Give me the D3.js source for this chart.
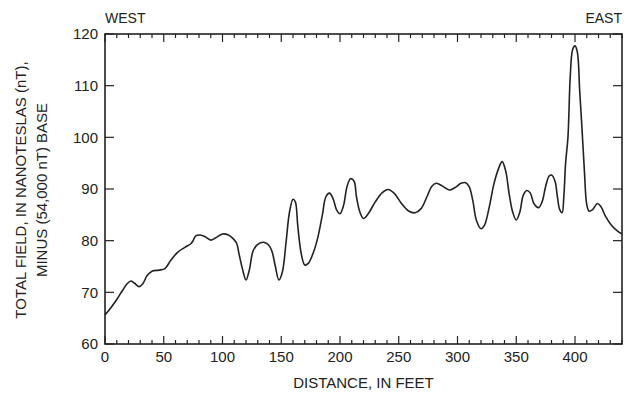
<!DOCTYPE html>
<html>
<head>
<meta charset="utf-8">
<script src="https://cdn.jsdelivr.net/npm/d3@7"></script>
<style>
  html, body { margin: 0; padding: 0; background: #fff; }
  svg { display: block; font-family: "Liberation Sans", Arial, sans-serif; }
</style>
</head>
<body>
<svg id="chart" width="634" height="402"></svg>
<script>
// Magnetic profile: distance along the line (feet) and total field (nT above 54,000 nT base)
const distance = [0,5,10,15,19,22,25,29,32,36,40,46,51,56,62,68,73,75,77,81,85,90,94,100,105,109,112,114,117,120,123,126,130,135,139,142,145,148,151,154,157,160,162,164,167,170,173,177,181,185,188,191,194,197,200,203,206,209,212,214,217,220,224,230,236,241,246,252,258,264,269,274,278,282,287,293,298,303,307,310,313,316,320,323,327,331,335,338,341,344,347,350,353,356,359,362,365,369,372,375,378,380,383,385,387,389,390.5,392,394,396,398,400,402,404,406,408,410,412,415,419,422,426,431,436,440];
const field = [65.6,67.0,68.6,70.4,71.7,72.2,71.8,71.1,71.6,73.3,74.1,74.3,74.6,76.2,77.8,78.7,79.4,80.0,80.9,81.1,80.8,80.1,80.5,81.3,81.1,80.4,79.5,77.5,74.5,72.4,74.5,78.0,79.3,79.7,79.2,78.0,75.0,72.4,74.0,79.5,85.5,88.0,87.5,83.0,77.5,75.3,75.6,77.5,80.5,85.0,88.5,89.2,88.2,86.0,85.2,86.8,90.5,92.0,91.5,88.5,85.5,84.3,85.2,87.5,89.3,89.9,89.2,87.3,85.8,85.4,86.2,88.5,90.5,91.1,90.6,89.8,90.3,91.1,91.2,90.4,87.8,84.0,82.3,83.0,86.5,91.0,94.0,95.3,93.5,89.0,85.5,84.0,85.5,88.8,89.7,89.2,87.2,86.4,87.5,90.5,92.5,92.7,91.5,88.5,86.0,85.4,88.5,95.0,100.0,112.0,117.0,117.7,116.5,109.0,101.5,93.5,87.0,85.7,86.0,87.2,86.6,84.7,83.0,81.9,81.3];

const xTickLabels = [0,50,100,150,200,250,300,350,400];
const yTickLabels = [60,70,80,90,100,110,120];
const xDomain = [0,440];
const yDomain = [60,120];

const svg = d3.select("#chart");
const m = { left: 105, right: 12, top: 34, bottom: 58 };
const W = 634, H = 402;
const x = d3.scaleLinear().domain(xDomain).range([m.left, W - m.right]);
const y = d3.scaleLinear().domain(yDomain).range([H - m.bottom, m.top]);

const ink = "#222";

// Frame
svg.append("rect")
  .attr("x", x(xDomain[0])).attr("y", y(yDomain[1]))
  .attr("width", x(xDomain[1]) - x(xDomain[0]))
  .attr("height", y(yDomain[0]) - y(yDomain[1]))
  .attr("fill", "none").attr("stroke", ink).attr("stroke-width", 1.6);

// Inward ticks on all four sides
const minorX = d3.range(0, 441, 10);
const ticks = svg.append("g").attr("stroke", ink).attr("stroke-width", 1.2);
minorX.forEach(d => {
  const len = d % 50 === 0 ? 8 : 4;
  ticks.append("line").attr("x1", x(d)).attr("x2", x(d))
    .attr("y1", y(60)).attr("y2", y(60) - len);
  ticks.append("line").attr("x1", x(d)).attr("x2", x(d))
    .attr("y1", y(120)).attr("y2", y(120) + len);
});
yTickLabels.forEach(v => {
  ticks.append("line").attr("x1", x(0)).attr("x2", x(0) + 9)
    .attr("y1", y(v)).attr("y2", y(v));
  ticks.append("line").attr("x1", x(440)).attr("x2", x(440) - 9)
    .attr("y1", y(v)).attr("y2", y(v));
});

// Tick labels
svg.append("g").selectAll("text").data(xTickLabels).join("text")
  .attr("x", d => x(d)).attr("y", y(60) + 18)
  .attr("text-anchor", "middle").attr("font-size", 15).attr("fill", ink)
  .text(d => d);
svg.append("g").selectAll("text").data(yTickLabels).join("text")
  .attr("x", x(0) - 7).attr("y", d => y(d)).attr("dy", "0.35em")
  .attr("text-anchor", "end").attr("font-size", 15).attr("fill", ink)
  .text(d => d);

// Axis titles
svg.append("text").attr("x", (x(0) + x(440)) / 2).attr("y", 388)
  .attr("text-anchor", "middle").attr("font-size", 15).attr("fill", ink)
  .text("DISTANCE, IN FEET");
const yt = svg.append("text").attr("transform", "translate(26,190) rotate(-90)")
  .attr("text-anchor", "middle").attr("font-size", 15).attr("fill", ink);
yt.append("tspan").attr("x", 0).attr("dy", 0).text("TOTAL FIELD, IN NANOTESLAS (nT),");
yt.append("tspan").attr("x", 0).attr("dy", 21).text("MINUS (54,000 nT) BASE");

// Direction labels
svg.append("text").attr("x", x(0)).attr("y", 23).attr("font-size", 14).attr("fill", ink).text("WEST");
svg.append("text").attr("x", x(440)).attr("y", 23).attr("text-anchor", "end")
  .attr("font-size", 14).attr("fill", ink).text("EAST");

// Profile curve
const pts = distance.map((d, i) => [d, field[i]]);
svg.append("path").datum(pts)
  .attr("fill", "none").attr("stroke", ink).attr("stroke-width", 1.6)
  .attr("stroke-linejoin", "round")
  .attr("d", d3.line().x(p => x(p[0])).y(p => y(p[1])).curve(d3.curveCatmullRom.alpha(0.5)));
</script>
</body>
</html>
